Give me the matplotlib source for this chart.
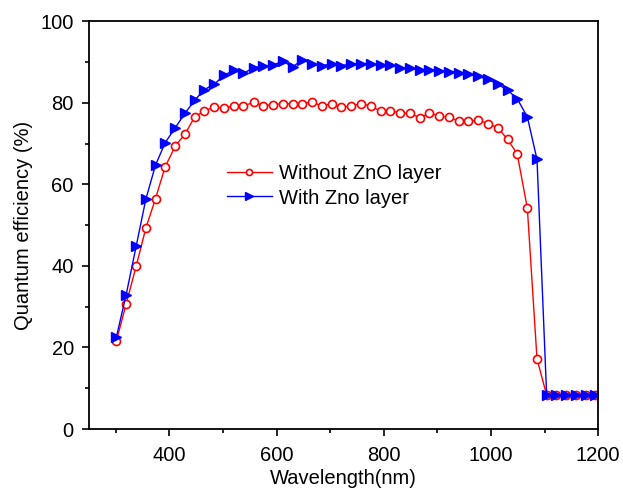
import matplotlib
matplotlib.use("Agg")
import matplotlib.pyplot as plt
from matplotlib.ticker import MultipleLocator

plt.rcParams['font.family'] = ['Liberation Sans', 'DejaVu Sans']

# wavelength (nm) of each measured point
wavelength = [301, 319, 338, 356, 374, 392, 411, 429, 447, 465,
              484, 502, 520, 538, 557, 575, 593, 611, 630, 648,
              666, 684, 703, 721, 739, 757, 776, 794, 812, 830,
              849, 867, 885, 903, 922, 940, 958, 976, 995, 1013,
              1031, 1049, 1068, 1086, 1104, 1122, 1140, 1159, 1177, 1195]

qe_without = [21.6, 30.6, 40.0, 49.3, 56.5, 64.3, 69.4, 72.3, 76.5, 78.0,
              78.9, 78.7, 79.2, 79.2, 80.1, 79.3, 79.5, 79.8, 79.7, 79.8,
              80.2, 79.2, 79.8, 78.9, 79.2, 79.8, 79.2, 77.9, 78.0, 77.6,
              77.4, 76.3, 77.4, 76.8, 76.4, 75.5, 75.5, 75.7, 74.9, 73.9,
              71.0, 67.5, 54.1, 17.2, 8.3, 8.3, 8.3, 8.3, 8.3, 8.3]

qe_with = [22.6, 32.8, 44.9, 56.4, 64.7, 70.2, 73.9, 77.4, 80.6, 83.2,
           84.6, 86.7, 88.0, 87.2, 88.6, 89.0, 89.2, 90.2, 88.8, 90.5,
           89.6, 89.1, 89.5, 89.1, 89.5, 89.6, 89.6, 89.2, 89.2, 88.6,
           88.4, 88.1, 88.0, 87.8, 87.6, 87.4, 87.0, 86.5, 85.7, 84.5,
           83.1, 81.0, 76.5, 66.1, 8.3, 8.3, 8.3, 8.3, 8.3, 8.3]

fig = plt.figure(figsize=(6.23, 4.92), dpi=100)
ax = fig.add_axes([0.143, 0.128, 0.817, 0.829])

ax.plot(wavelength, qe_without, color='red', lw=1.0, marker='o', ms=5.8,
        mfc='white', mec='red', mew=1.2, label='Without ZnO layer')
ax.plot(wavelength, qe_with, color='blue', lw=1.0, marker='>', ms=7.5,
        mfc='blue', mec='blue', label='With Zno layer')

ax.set_xlim(250, 1200)
ax.set_ylim(0, 100)
ax.xaxis.set_major_locator(MultipleLocator(200))
ax.xaxis.set_minor_locator(MultipleLocator(100))
ax.yaxis.set_major_locator(MultipleLocator(20))
ax.yaxis.set_minor_locator(MultipleLocator(10))
ax.tick_params(which='both', direction='out', width=1.2, labelsize=14.5, pad=6)
ax.tick_params(axis='x', pad=7)
ax.tick_params(which='major', length=5)
ax.tick_params(which='minor', length=3)
for s in ax.spines.values():
    s.set_linewidth(1.3)

ax.set_xlabel('Wavelength(nm)', fontsize=14.5, labelpad=3)
ax.set_ylabel('Quantum efficiency (%)', fontsize=14.5, labelpad=5.5)

ax.legend(loc='upper left', bbox_to_anchor=(0.236, 0.693), frameon=False,
          fontsize=14.5, numpoints=1, markerscale=0.75, handlelength=2.2,
          handletextpad=0.35, labelspacing=0.25)

fig.savefig('out.png', dpi=100)
